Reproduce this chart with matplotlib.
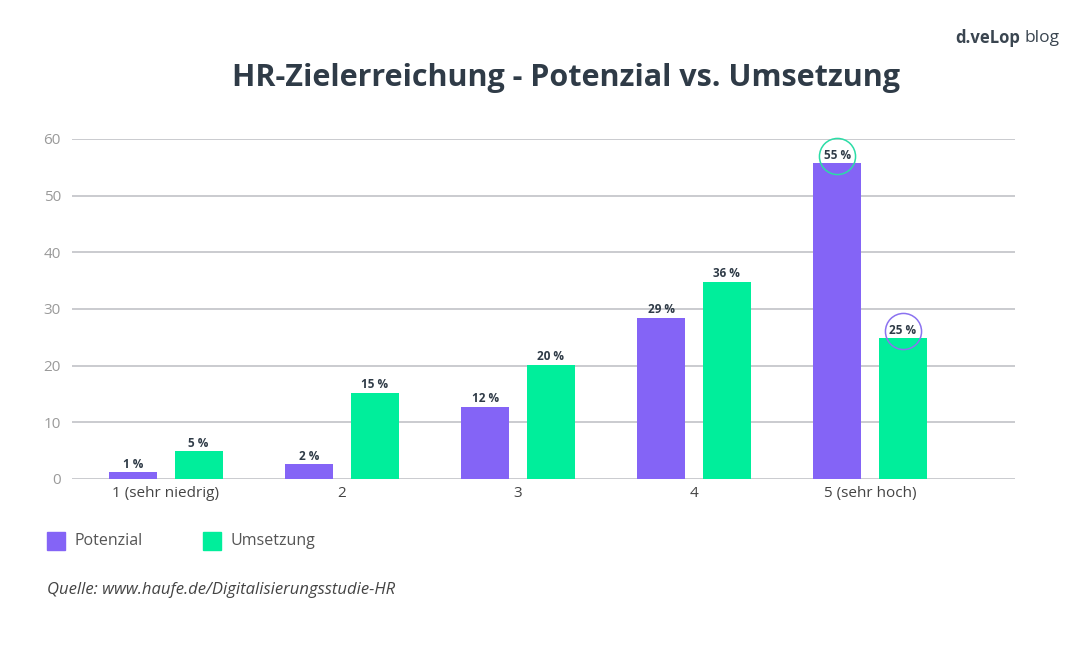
import matplotlib.pyplot as plt
import numpy as np

categories = ["1 (sehr niedrig)", "2", "3", "4", "5 (sehr hoch)"]
potenzial = [1.2, 2.6, 12.7, 28.4, 55.7]
umsetzung = [4.9, 15.2, 20.1, 34.8, 24.8]
potenzial_labels = ["1 %", "2 %", "12 %", "29 %", "55 %"]
umsetzung_labels = ["5 %", "15 %", "20 %", "36 %", "25 %"]
yticks = [0, 10, 20, 30, 40, 50, 60]

PURPLE = "#8464F6"
GREEN = "#00EE9B"
DARK = "#2F3B47"

plt.rcParams['font.family'] = ['Open Sans', 'DejaVu Sans']

fig = plt.figure(figsize=(10.9, 6.55), dpi=100)
ax = fig.add_axes([72 / 1090, 1 - 479 / 655, (1015 - 72) / 1090, (479 - 139) / 655])

x = np.arange(len(categories))
off = 0.185
w = 0.273
ax.bar(x - off, potenzial, w, color=PURPLE, zorder=3)
ax.bar(x + off, umsetzung, w, color=GREEN, zorder=3)

for i in range(len(categories)):
    ax.text(x[i] - off, potenzial[i] + 0.3, potenzial_labels[i], ha='center', va='bottom',
            fontsize=8.5, fontweight='bold', color=DARK, zorder=5)
    ax.text(x[i] + off, umsetzung[i] + 0.3, umsetzung_labels[i], ha='center', va='bottom',
            fontsize=8.5, fontweight='bold', color=DARK, zorder=5)

# Kreise um die hervorgehobenen Werte
ax.plot(x[4] - off, potenzial[4] + 1.3, marker='o', markersize=26, mfc='none',
        mec='#2BDDA6', mew=1.1, clip_on=False, zorder=6)
ax.plot(x[4] + off, umsetzung[4] + 1.3, marker='o', markersize=26, mfc='none',
        mec='#8B72F0', mew=1.1, clip_on=False, zorder=6)

ax.set_xlim(-0.534, 4.824)
ax.set_ylim(0, 60)
ax.set_yticks(yticks)
ax.set_xticks(x)
ax.set_xticklabels(categories)
ax.grid(axis='y', color='#C6C7CB', linewidth=1.3, zorder=0)
ax.tick_params(length=0, labelsize=11, colors='#444444')
ax.tick_params(axis='y', colors='#9A9A9A', pad=8)
ax.tick_params(axis='x', pad=5)
for s in ax.spines.values():
    s.set_visible(False)

fig.text(566 / 1090, 1 - 78 / 655, "HR-Zielerreichung - Potenzial vs. Umsetzung",
         ha='center', va='center', fontsize=22, fontweight='bold', color=DARK)

fig.text(955 / 1090, 1 - 38 / 655, "d.veLop", ha='left', va='center',
         fontsize=12, fontweight='bold', color='#3A4550')
fig.text(1025 / 1090, 1 - 38 / 655, "blog", ha='left', va='center',
         fontsize=12.5, color='#3A4550')

# Legende
fig.patches.append(plt.Rectangle((47 / 1090, 1 - 550 / 655), 18 / 1090, 18 / 655,
                                 transform=fig.transFigure, color=PURPLE))
fig.text(75 / 1090, 1 - 541 / 655, "Potenzial", ha='left', va='center',
         fontsize=11.5, color='#555555')
fig.patches.append(plt.Rectangle((203 / 1090, 1 - 550 / 655), 18 / 1090, 18 / 655,
                                 transform=fig.transFigure, color=GREEN))
fig.text(230 / 1090, 1 - 541 / 655, "Umsetzung", ha='left', va='center',
         fontsize=11.5, color='#555555')

fig.text(47 / 1090, 1 - 590 / 655, "Quelle: www.haufe.de/Digitalisierungsstudie-HR",
         ha='left', va='center', fontsize=12, style='italic', color='#444444')

fig.savefig("out.png", dpi=100, facecolor='white')
